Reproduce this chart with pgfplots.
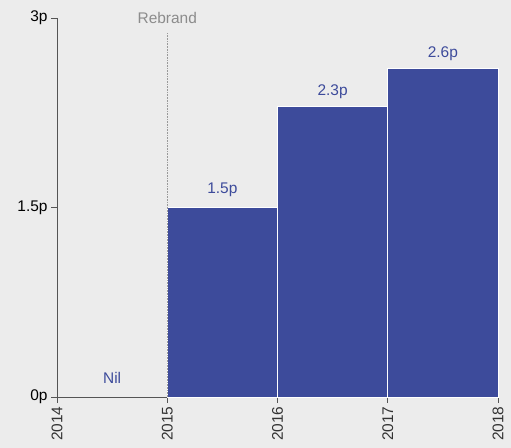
\documentclass[border=0pt]{standalone}
\usepackage{pgfplots}
\pgfplotsset{compat=1.18}
\usepackage{fontspec}
\setmainfont{Liberation Sans}
\definecolor{bg}{HTML}{ECECEC}
\definecolor{barc}{HTML}{3D4B9B}
\definecolor{axc}{HTML}{555555}
\begin{document}
\begin{tikzpicture}[x=1bp,y=1bp]
\path[fill=bg,use as bounding box] (-57,-51) rectangle (454,397);
\begin{axis}[
  at={(0,0)}, anchor=origin,
  scale only axis, width=441bp, height=379bp,
  xmin=2014, xmax=2018, ymin=0, ymax=3,
  axis x line*=bottom, axis y line*=left,
  axis line style={axc, line width=0.8pt, -},
  xtick={2014,2015,2016,2017,2018},
  xticklabels={2014,2015,2016,2017,2018},
  ytick={0,1.5,3}, yticklabels={0p,1.5p,3p},
  x tick label style={rotate=90, anchor=east, font=\fontsize{15.5}{17}\selectfont, text=black!80},
  y tick label style={font=\fontsize{15.5}{17}\selectfont, text=black},
  tick style={axc, line width=0.8pt},
  tick align=outside, major tick length=6bp,
  xtick pos=bottom, ytick pos=left,
  clip=false,
]
\addplot[ybar interval, fill=barc, draw=white, line width=0.8pt]
  coordinates {(2015,1.5) (2016,2.3) (2017,2.6) (2018,2.6)};
\addplot[gray!80, densely dotted, line width=0.6pt] coordinates {(2015,0) (2015,2.88)};
\node[text=black!45, font=\fontsize{15.5}{17}\selectfont] at (axis cs:2015,3) {Rebrand};
\node[text=barc, font=\fontsize{15.5}{17}\selectfont] at (axis cs:2014.5,0.15) {Nil};
\node[text=barc, font=\fontsize{15.5}{17}\selectfont] at (axis cs:2015.5,1.64) {1.5p};
\node[text=barc, font=\fontsize{15.5}{17}\selectfont] at (axis cs:2016.5,2.42) {2.3p};
\node[text=barc, font=\fontsize{15.5}{17}\selectfont] at (axis cs:2017.5,2.72) {2.6p};
\end{axis}
\end{tikzpicture}
\end{document}
